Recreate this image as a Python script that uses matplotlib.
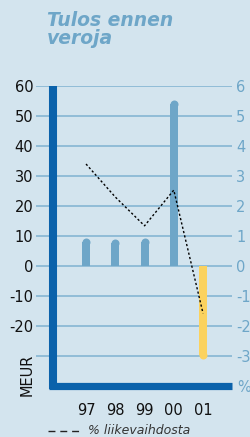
import matplotlib
matplotlib.use("Agg")
import matplotlib.pyplot as plt
from matplotlib.lines import Line2D
import numpy as np

plt.rcParams['axes.unicode_minus'] = False
plt.rcParams['font.family'] = ['DejaVu Sans']

years = ["97", "98", "99", "00", "01"]
profit = [9.5, 9, 9.5, 55.5, -31]          # MEUR (visual extent incl. rounded cap)
pct = [3.4, 2.3, 1.34, 2.53, -1.58]        # % liikevaihdosta
grid_ticks = [-30, -20, -10, 0, 10, 20, 30, 40, 50, 60]
left_ticks = [-20, -10, 0, 10, 20, 30, 40, 50, 60]
right_ticks = [-3, -2, -1, 0, 1, 2, 3, 4, 5, 6]

BG = "#d3e4ee"
BAR = "#6ea6c8"
NEG = "#fbd25e"
GRID = "#86b6d3"
DARK = "#0b62ab"
LIGHT = "#6ea6c8"

W, H = 250, 437
fig = plt.figure(figsize=(W/100, H/100), dpi=100, facecolor=BG)

ax_l, ax_r = 36, 232
ax_top, ax_bot = 86, 389
ax = fig.add_axes([ax_l/W, 1-ax_bot/H, (ax_r-ax_l)/W, (ax_bot-ax_top)/H])
ax.set_facecolor(BG)

x = np.arange(len(years))
ymin, ymax = -41, 60
ax.set_xlim(-1.71, 4.99)
ax.set_ylim(ymin, ymax)

for s in ax.spines.values():
    s.set_visible(False)

# grid
for t in grid_ticks:
    ax.axhline(t, color=GRID, lw=1.2, zorder=1)

# bars with rounded end
px_per_unit_y = (ax_bot-ax_top)/(ymax-ymin)
bar_w_px = 8
r = (bar_w_px/2)/px_per_unit_y
bw = bar_w_px / ((ax_r-ax_l)/(4.99+1.71))
for xi, v in zip(x, profit):
    c = BAR if v >= 0 else NEG
    h = v - r if v >= 0 else v + r
    ax.bar(xi, h, width=bw, color=c, zorder=2, linewidth=0)
    ax.scatter([xi], [h], s=(bar_w_px*0.72)**2, color=c, zorder=2, linewidths=0, marker='o')

# thick axes
ax.plot([-1.13, -1.13], [60, ymin], color=DARK, lw=5.8, solid_capstyle='butt', clip_on=False, zorder=4)
ax.plot([-1.27, 4.99], [ymin+0.9, ymin+0.9], color=DARK, lw=5.2, solid_capstyle='butt', clip_on=False, zorder=4)

# percentage line on twin
ax2 = ax.twinx()
ax2.set_ylim(ymin/10, ymax/10)
for s in ax2.spines.values():
    s.set_visible(False)
ax2.plot(x, pct, color="black", lw=1.0, linestyle=(0, (1.6, 1.6)), zorder=5)

ax.set_yticks(left_ticks)
ax.set_yticklabels([str(t) for t in left_ticks])
ax.tick_params(axis='y', length=0, pad=2, labelsize=10.5, labelcolor="#111111")
ax2.set_yticks(right_ticks)
ax2.set_yticklabels([str(t) for t in right_ticks])
ax2.tick_params(axis='y', length=0, pad=3, labelsize=10.5, labelcolor=LIGHT)

ax.set_xticks(x)
ax.set_xticklabels(years)
ax.tick_params(axis='x', length=0, pad=10, labelsize=10.5, labelcolor="#111111")

fig.text(27/W, 1-375/H, "MEUR", rotation=90, ha='center', va='center', fontsize=10.5, color="#111111")
fig.text(237/W, 1-388/H, "%", ha='left', va='center', fontsize=10.5, color=LIGHT)

fig.text(47/W, 1-20/H, "Tulos ennen", ha='left', va='center', fontsize=13.5,
         fontweight='bold', fontstyle='italic', color=LIGHT)
fig.text(47/W, 1-39/H, "veroja", ha='left', va='center', fontsize=13.5,
         fontweight='bold', fontstyle='italic', color=LIGHT)

fig.add_artist(Line2D([48/W, 82/W], [1-431/H, 1-431/H], color="#222222", lw=1.0,
                      linestyle=(0, (5, 3.5))))
fig.text(88/W, 1-431/H, "% liikevaihdosta", ha='left', va='center', fontsize=9,
         fontstyle='italic', color="#333333")

fig.savefig("out.png", dpi=100, facecolor=BG)
